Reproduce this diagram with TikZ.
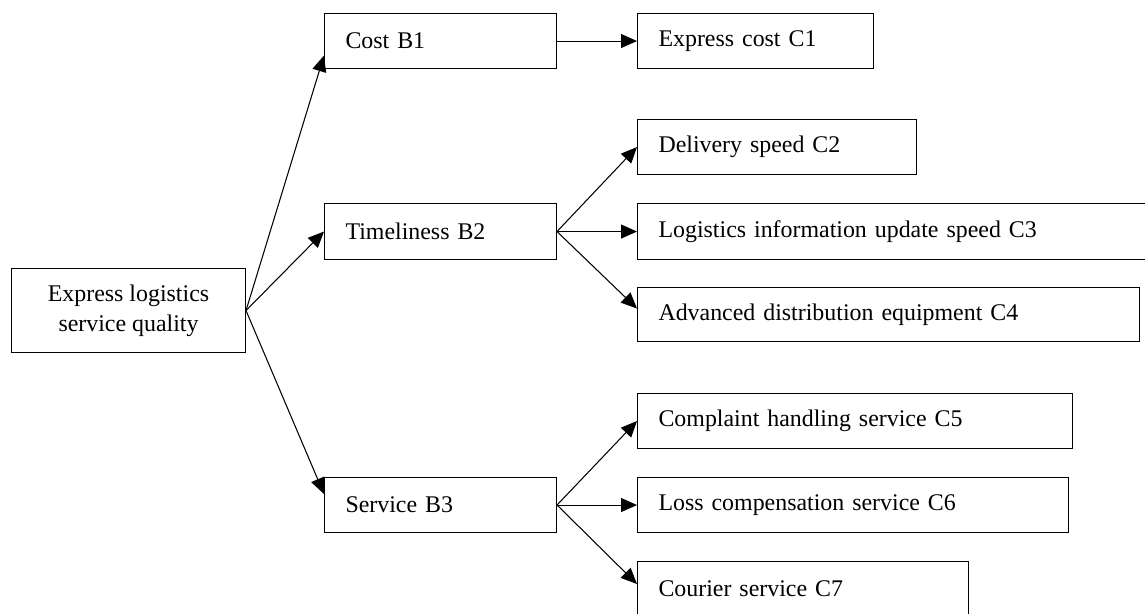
\documentclass[tikz,border=0pt]{standalone}
\usepackage{fontspec}
\setmainfont{Liberation Serif}
\usetikzlibrary{arrows.meta}

\begin{document}
\begin{tikzpicture}[x=0.02cm, y=-0.02cm,
    box/.style={draw, line width=0.6pt, anchor=north west, inner xsep=0.42cm,
        inner ysep=0pt, minimum height=1.1cm, align=left,
        font=\fontsize{13.6pt}{17pt}\selectfont},
    link/.style={line width=0.6pt, -{Triangle[length=0.32cm, width=0.28cm]}}]
    \useasboundingbox (0, 0) rectangle (1145, 613);

    % Draw the goal block
    \node[box, align=center, inner xsep=0pt, minimum width=4.68cm, minimum height=1.68cm]
        (root) at (11, 268) {Express logistics\\service quality};

    % Draw the criteria blocks
    \node[box, text width=3.8cm] (b1) at (324, 13) {Cost B1};
    \node[box, text width=3.8cm, minimum height=1.12cm] (b2) at (324, 203) {Timeliness B2};
    \node[box, text width=3.8cm] (b3) at (324, 477) {Service B3};

    % Draw the indicator blocks
    \node[box, text width=3.88cm] (c1) at (637, 13) {Express cost C1};
    \node[box, text width=4.74cm] (c2) at (637, 119) {Delivery speed C2};
    \node[box, text width=9.42cm, minimum height=1.12cm] (c3) at (637, 203) {Logistics information update speed C3};
    \node[box, text width=9.2cm, minimum height=1.08cm] (c4) at (637, 287) {Advanced distribution equipment C4};
    \node[box, text width=7.86cm] (c5) at (637, 393) {Complaint handling service C5};
    \node[box, text width=7.78cm] (c6) at (637, 477) {Loss compensation service C6};
    \node[box, text width=5.78cm] (c7) at (637, 561) {Courier service C7};

    % Draw the arrows from the goal
    \draw[link] (root.east) -- ([yshift=-0.29cm]b1.west);
    \draw[link] (root.east) -- (b2.west);
    \draw[link] (root.east) -- ([yshift=0.22cm]b3.west);

    % Draw the arrows from the criteria
    \draw[link] (b1.east) -- (c1.west);
    \draw[link] (b2.east) -- (c2.west);
    \draw[link] (b2.east) -- (c3.west);
    \draw[link] (b2.east) -- ([yshift=0.12cm]c4.west);
    \draw[link] (b3.east) -- (c5.west);
    \draw[link] (b3.east) -- (c6.west);
    \draw[link] (b3.east) -- ([yshift=0.1cm]c7.west);
\end{tikzpicture}
\end{document}
